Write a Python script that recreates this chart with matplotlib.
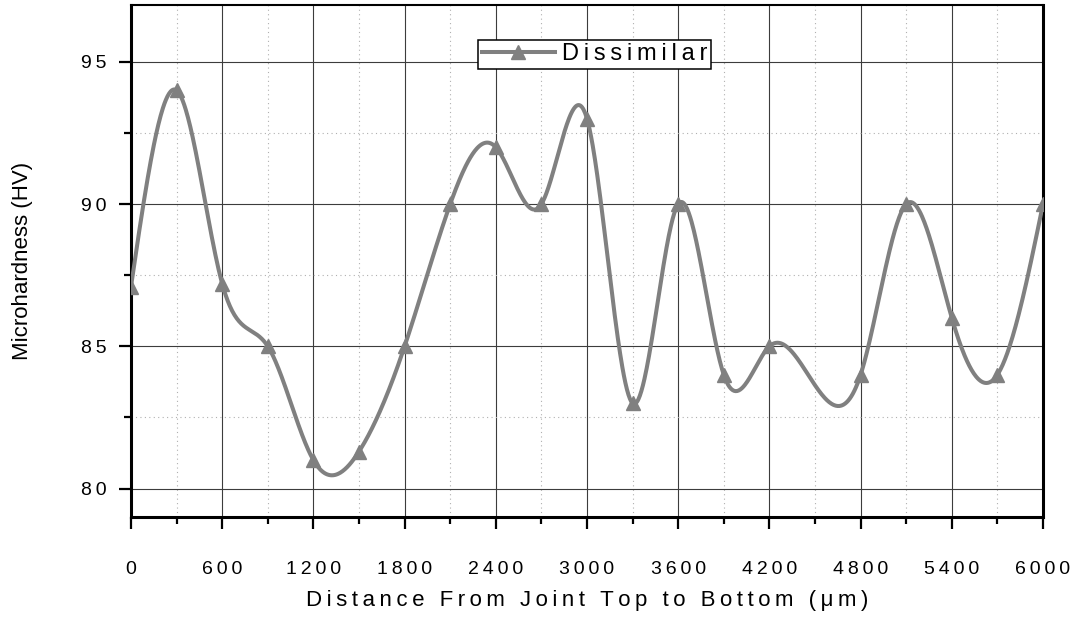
import matplotlib
matplotlib.use("Agg")
import matplotlib.pyplot as plt
import matplotlib.ticker as mticker
import numpy as np

# hardness traverse, top of the joint to the bottom
distance = [0, 300, 600, 900, 1200, 1500, 1800, 2100, 2400, 2700, 3000,
            3300, 3600, 3900, 4200, 4800, 5100, 5400, 5700, 6000]
hardness = [87.1, 94.0, 87.2, 85.0, 81.0, 81.3, 85.0, 90.0, 92.0, 90.0, 93.0,
            83.0, 90.0, 84.0, 85.0, 84.0, 90.0, 86.0, 84.0, 90.0]
series_name = "Dissimilar"
x_label = "Distance From Joint Top to Bottom (\u03bcm)"
y_label = "Microhardness (HV)"
x_ticks = [0, 600, 1200, 1800, 2400, 3000, 3600, 4200, 4800, 5400, 6000]
y_ticks = [80, 85, 90, 95]

THIN = "\u2009"


def spaced(s, sep=THIN):
    # wide letter spacing, Origin style
    return sep.join(s)


def natural_spline(x, y, xs):
    x = np.asarray(x, float)
    y = np.asarray(y, float)
    n = len(x)
    h = np.diff(x)
    A = np.zeros((n, n))
    r = np.zeros(n)
    A[0, 0] = A[-1, -1] = 1.0
    for i in range(1, n - 1):
        A[i, i - 1] = h[i - 1]
        A[i, i] = 2 * (h[i - 1] + h[i])
        A[i, i + 1] = h[i]
        r[i] = 3 * ((y[i + 1] - y[i]) / h[i] - (y[i] - y[i - 1]) / h[i - 1])
    c = np.linalg.solve(A, r)
    b = (y[1:] - y[:-1]) / h - h * (2 * c[:-1] + c[1:]) / 3
    d = (c[1:] - c[:-1]) / (3 * h)
    idx = np.clip(np.searchsorted(x, xs) - 1, 0, n - 2)
    dx = xs - x[idx]
    return y[idx] + b[idx] * dx + c[idx] * dx ** 2 + d[idx] * dx ** 3


plt.rcParams["font.family"] = ["Liberation Sans", "DejaVu Sans"]

fig = plt.figure(figsize=(10.75, 6.33), dpi=100)
ax = fig.add_axes([131 / 1075, 1 - 517 / 633, 912 / 1075, 512 / 633])

gray = "#808080"
xs = np.linspace(distance[0], distance[-1], 1200)
ax.plot(xs, natural_spline(distance, hardness, xs), color=gray, lw=2.9,
        zorder=3)
ax.plot(distance, hardness, linestyle="none", marker="^", markersize=10.5,
        color=gray, zorder=4)
# legend proxy: line with marker
ax.plot([], [], color=gray, lw=2.9, marker="^", markersize=10.5,
        label=spaced(series_name))

ax.set_xlim(0, 6000)
ax.set_ylim(79, 97)

ax.xaxis.set_major_locator(mticker.FixedLocator(x_ticks))
ax.xaxis.set_minor_locator(mticker.MultipleLocator(300))
ax.yaxis.set_major_locator(mticker.FixedLocator(y_ticks))
ax.yaxis.set_minor_locator(mticker.MultipleLocator(2.5))
ax.xaxis.set_major_formatter(mticker.FuncFormatter(lambda v, p: spaced(f"{int(v)}")))
ax.yaxis.set_major_formatter(mticker.FuncFormatter(lambda v, p: spaced(f"{int(v)}")))

ax.grid(which="major", color="#3c3c3c", lw=0.8, linestyle="-", zorder=1)
ax.grid(which="minor", color="#b0b0b0", lw=0.8, linestyle=(0, (1, 3)), zorder=1)
ax.set_axisbelow(True)

ax.tick_params(which="both", direction="out", top=False, right=False,
               colors="black", labelsize=14)
ax.tick_params(which="major", length=8.5, width=1.6)
ax.tick_params(which="minor", length=5, width=1.6)
ax.tick_params(axis="x", which="major", pad=23)
ax.tick_params(axis="y", which="major", pad=9)

for side in ["left", "right", "bottom"]:
    ax.spines[side].set_linewidth(2.2)
ax.spines["top"].set_linewidth(1.5)

ax.set_xlabel(spaced(x_label), fontsize=16)
ax.set_ylabel(y_label, fontsize=16)
ax.xaxis.set_label_coords(0.5, -0.142)
ax.yaxis.set_label_coords(-0.108, 0.5)

leg = ax.legend(loc="upper left", bbox_to_anchor=(0.3805, 0.932),
                fontsize=17, frameon=True, fancybox=False, borderpad=0.15,
                handlelength=3.1, handletextpad=0.3, borderaxespad=0)
leg.get_frame().set_edgecolor("black")
leg.get_frame().set_linewidth(1.1)
leg.get_frame().set_alpha(1)

fig.savefig("out.png", dpi=100)
